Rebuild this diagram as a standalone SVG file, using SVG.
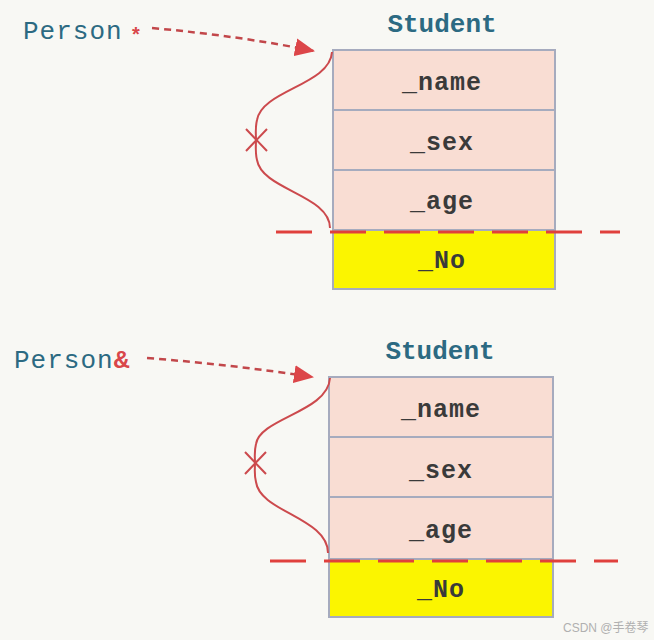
<svg xmlns="http://www.w3.org/2000/svg" width="654" height="640" viewBox="0 0 654 640">
<style>
.lbl{font-family:"Liberation Mono","DejaVu Sans Mono",monospace;fill:#2c6a82;font-size:26px;letter-spacing:1px}
.title{font-family:"Liberation Mono","DejaVu Sans Mono",monospace;fill:#2c6a82;font-size:26px;font-weight:bold;text-anchor:middle}
.fld{font-family:"Liberation Mono","DejaVu Sans Mono",monospace;fill:#3a3a3a;font-size:25px;font-weight:bold;text-anchor:middle;letter-spacing:1px}
.cell{fill:#f9ddd3;stroke:#a6abbe;stroke-width:2}
.yel{fill:#fbf500;stroke:#a6abbe;stroke-width:2}
.ptr{fill:none;stroke:#c2474a;stroke-width:2.5;stroke-dasharray:7 5}
.brace{fill:none;stroke:#cc4a4d;stroke-width:2}
.cut{stroke:#e0403c;stroke-width:3;stroke-dasharray:36 18}
</style>
<defs>
<marker id="ah2" markerWidth="20" markerHeight="18" refX="19" refY="9" orient="auto" markerUnits="userSpaceOnUse">
<path d="M0,0 L20,9 L0,18 Z" fill="#dc4649"/>
</marker>
</defs>
<rect width="654" height="640" fill="#f8f8f4"/>

<g id="top-student">
<text class="title" x="442" y="32">Student</text>
<rect class="cell" x="333" y="50" width="222" height="60"/>
<rect class="cell" x="333" y="110" width="222" height="60"/>
<rect class="cell" x="333" y="170" width="222" height="60"/>
<rect class="yel" x="333" y="230" width="222" height="59"/>
<text class="fld" x="442" y="90">_name</text>
<text class="fld" x="442" y="150">_sex</text>
<text class="fld" x="442" y="209">_age</text>
<text class="fld" x="442" y="268">_No</text>
</g>

<g id="top-person">
<text class="lbl" x="23" y="39">Person</text>
<text x="132" y="41" font-family="Liberation Sans,sans-serif" font-size="20" font-weight="bold" fill="#d9474a">*</text>
</g>

<g id="bottom-student">
<text class="title" x="440" y="359">Student</text>
<rect class="cell" x="329" y="377" width="224" height="60"/>
<rect class="cell" x="329" y="437" width="224" height="60"/>
<rect class="cell" x="329" y="497" width="224" height="62"/>
<rect class="yel" x="329" y="559" width="224" height="58"/>
<text class="fld" x="441" y="417">_name</text>
<text class="fld" x="441" y="478">_sex</text>
<text class="fld" x="441" y="538">_age</text>
<text class="fld" x="441" y="597">_No</text>
</g>

<g id="bottom-person">
<text class="lbl" x="14" y="368">Person<tspan fill="#d9474a" font-weight="bold">&amp;</tspan></text>
</g>

<g id="connectors">
<path class="ptr" d="M152,28 Q240,36 314,51" marker-end="url(#ah2)"/>
<path class="ptr" d="M147,358 Q235,365 313,377" marker-end="url(#ah2)"/>
<path class="brace" d="M332,52 C330,85 262,90 257,120 C255,128 256,134 256,140 C256,146 255,152 257,160 C262,190 330,195 330,228"/>
<path class="brace" d="M246,129 L267,151 M267,129 L246,151"/>
<path class="brace" d="M330,378 C328,412 260,418 256,444 C254,452 255,457 255,463 C255,469 254,474 256,482 C260,512 328,518 328,553"/>
<path class="brace" d="M245,452 L266,474 M266,452 L245,474"/>
<line class="cut" x1="276" y1="232" x2="620" y2="232"/>
<line class="cut" x1="270" y1="561" x2="618" y2="561"/>
</g>

<text x="563" y="632" font-family="Liberation Sans,'Noto Sans CJK SC',sans-serif" font-size="12" fill="#b0b0b0">CSDN @手卷琴</text>
</svg>
